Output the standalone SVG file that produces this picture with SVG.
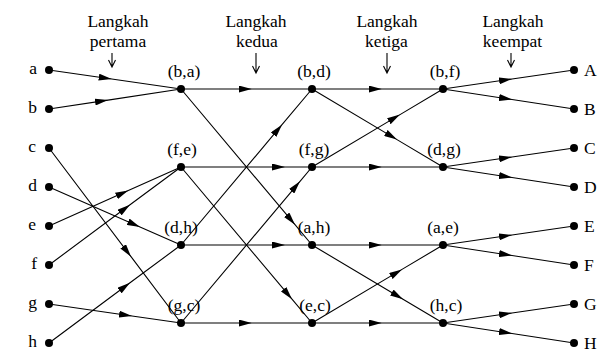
<svg xmlns="http://www.w3.org/2000/svg" width="606" height="352" viewBox="0 0 606 352">
  <style>
    text { font-family: "Liberation Serif", "Times New Roman", serif; font-size: 17.5px; fill: #000; }
    .mid { text-anchor: middle; }
    .end { text-anchor: end; }
    .edge { fill: none; stroke: #000; stroke-width: 1.1; marker-mid: url(#head); }
    .step { fill: none; stroke: #000; stroke-width: 1.1; }
    .dot { fill: #000; }
  </style>
  <defs>
    <marker id="head" viewBox="0 0 13 7" refX="13" refY="3.5" markerWidth="13" markerHeight="7" markerUnits="userSpaceOnUse" orient="auto">
      <path d="M0,0 L13,3.5 L0,7 Z" fill="#000"/>
    </marker>
  </defs>

  <!-- step headings with down arrows -->
  <g id="steps">
    <text class="mid" x="118" y="27">Langkah</text>
    <text class="mid" x="118" y="47">pertama</text>
    <path class="step" d="M112,53 V67 M108.5,60 L112,67 L115.5,60"/>
    <text class="mid" x="256" y="27">Langkah</text>
    <text class="mid" x="257" y="47">kedua</text>
    <path class="step" d="M256,53 V73 M252.5,66 L256,73 L259.5,66"/>
    <text class="mid" x="387" y="27">Langkah</text>
    <text class="mid" x="386.5" y="47">ketiga</text>
    <path class="step" d="M387,53 V73 M383.5,66 L387,73 L390.5,66"/>
    <text class="mid" x="513" y="27">Langkah</text>
    <text class="mid" x="512.5" y="47">keempat</text>
    <path class="step" d="M511,53 V67 M507.5,60 L511,67 L514.5,60"/>
  </g>

  <!-- connectors: each path passes through the arrow tip position -->
  <g id="connectors">
    <!-- step 1 -->
    <path class="edge" d="M49,70 L111.7,79 L181,89"/>
    <path class="edge" d="M49,109 L108,100.1 L181,89"/>
    <path class="edge" d="M49,226 L128.3,190.6 L181,167"/>
    <path class="edge" d="M49,265 L130,204.8 L181,167"/>
    <path class="edge" d="M49,187 L140,227 L181,245"/>
    <path class="edge" d="M49,343 L130,282.8 L181,245"/>
    <path class="edge" d="M49,148 L131,256.7 L181,323"/>
    <path class="edge" d="M49,304 L132,316 L181,323"/>
    <!-- step 2 -->
    <path class="edge" d="M181,89 L251.7,89 L312,89"/>
    <path class="edge" d="M181,167 L285,167 L312,167"/>
    <path class="edge" d="M181,245 L285,245 L312,245"/>
    <path class="edge" d="M181,323 L251.7,323 L312,323"/>
    <path class="edge" d="M181,89 L295,224.7 L312,245"/>
    <path class="edge" d="M181,167 L292,299.2 L312,323"/>
    <path class="edge" d="M181,245 L282,124.7 L312,89"/>
    <path class="edge" d="M181,323 L300,181.3 L312,167"/>
    <!-- step 3 -->
    <path class="edge" d="M312,89 L381.7,89 L443,89"/>
    <path class="edge" d="M312,167 L381.7,167 L443,167"/>
    <path class="edge" d="M312,245 L381.7,245 L443,245"/>
    <path class="edge" d="M312,323 L381.7,323 L443,323"/>
    <path class="edge" d="M312,89 L397,139.6 L443,167"/>
    <path class="edge" d="M312,167 L400,114.6 L443,89"/>
    <path class="edge" d="M312,245 L403,299.2 L443,323"/>
    <path class="edge" d="M312,323 L402,269.4 L443,245"/>
    <!-- step 4 -->
    <path class="edge" d="M443,89 L512,79 L574,70"/>
    <path class="edge" d="M443,89 L512,99.5 L574,109"/>
    <path class="edge" d="M443,167 L512,157 L574,148"/>
    <path class="edge" d="M443,167 L512,177.5 L574,187"/>
    <path class="edge" d="M443,245 L512,235 L574,226"/>
    <path class="edge" d="M443,245 L512,255.5 L574,265"/>
    <path class="edge" d="M443,323 L512,313 L574,304"/>
    <path class="edge" d="M443,323 L512,333.5 L574,343"/>
  </g>

  <!-- inputs -->
  <g id="in-a"><circle class="dot" cx="49" cy="70" r="4"/><text class="end" x="37" y="74">a</text></g>
  <g id="in-b"><circle class="dot" cx="49" cy="109" r="4"/><text class="end" x="37" y="113">b</text></g>
  <g id="in-c"><circle class="dot" cx="49" cy="148" r="4"/><text class="end" x="36" y="152">c</text></g>
  <g id="in-d"><circle class="dot" cx="49" cy="187" r="4"/><text class="end" x="37" y="191">d</text></g>
  <g id="in-e"><circle class="dot" cx="49" cy="226" r="4"/><text class="end" x="36" y="230">e</text></g>
  <g id="in-f"><circle class="dot" cx="49" cy="265" r="4"/><text class="end" x="37" y="269">f</text></g>
  <g id="in-g"><circle class="dot" cx="49" cy="304" r="4"/><text class="end" x="37" y="308">g</text></g>
  <g id="in-h"><circle class="dot" cx="49" cy="343" r="4"/><text class="end" x="37" y="347">h</text></g>

  <!-- step 1 results -->
  <g id="n-ba"><circle class="dot" cx="181" cy="89" r="4"/><text class="mid" x="184" y="76.5">(b,a)</text></g>
  <g id="n-fe"><circle class="dot" cx="181" cy="167" r="4"/><text class="mid" x="182" y="154.5">(f,e)</text></g>
  <g id="n-dh"><circle class="dot" cx="181" cy="245" r="4"/><text class="mid" x="181" y="232.5">(d,h)</text></g>
  <g id="n-gc"><circle class="dot" cx="181" cy="323" r="4"/><text class="mid" x="184" y="310.5">(g,c)</text></g>

  <!-- step 2 results -->
  <g id="n-bd"><circle class="dot" cx="312" cy="89" r="4"/><text class="mid" x="314" y="76.5">(b,d)</text></g>
  <g id="n-fg"><circle class="dot" cx="312" cy="167" r="4"/><text class="mid" x="314" y="154.5">(f,g)</text></g>
  <g id="n-ah"><circle class="dot" cx="312" cy="245" r="4"/><text class="mid" x="314" y="232.5">(a,h)</text></g>
  <g id="n-ec"><circle class="dot" cx="312" cy="323" r="4"/><text class="mid" x="315" y="310.5">(e,c)</text></g>

  <!-- step 3 results -->
  <g id="n-bf"><circle class="dot" cx="443" cy="89" r="4"/><text class="mid" x="445" y="76.5">(b,f)</text></g>
  <g id="n-dg"><circle class="dot" cx="443" cy="167" r="4"/><text class="mid" x="444" y="154.5">(d,g)</text></g>
  <g id="n-ae"><circle class="dot" cx="443" cy="245" r="4"/><text class="mid" x="443" y="232.5">(a,e)</text></g>
  <g id="n-hc"><circle class="dot" cx="443" cy="323" r="4"/><text class="mid" x="446" y="310.5">(h,c)</text></g>

  <!-- outputs -->
  <g id="out-A"><circle class="dot" cx="574" cy="70" r="4"/><text x="584" y="76">A</text></g>
  <g id="out-B"><circle class="dot" cx="574" cy="109" r="4"/><text x="584" y="115">B</text></g>
  <g id="out-C"><circle class="dot" cx="574" cy="148" r="4"/><text x="584" y="154">C</text></g>
  <g id="out-D"><circle class="dot" cx="574" cy="187" r="4"/><text x="584" y="193">D</text></g>
  <g id="out-E"><circle class="dot" cx="574" cy="226" r="4"/><text x="584" y="232">E</text></g>
  <g id="out-F"><circle class="dot" cx="574" cy="265" r="4"/><text x="584" y="271">F</text></g>
  <g id="out-G"><circle class="dot" cx="574" cy="304" r="4"/><text x="584" y="310">G</text></g>
  <g id="out-H"><circle class="dot" cx="574" cy="343" r="4"/><text x="584" y="349">H</text></g>
</svg>
